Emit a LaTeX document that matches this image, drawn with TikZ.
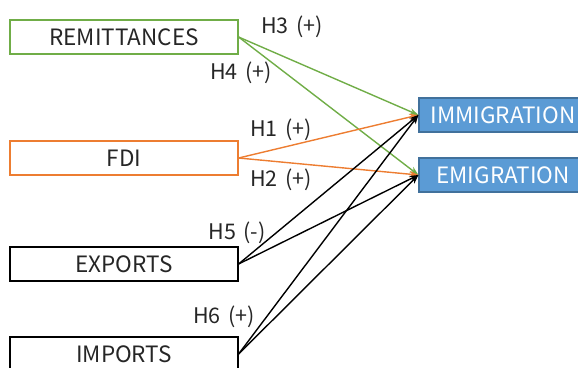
\documentclass[tikz,border=0pt]{standalone}
\usepackage{fontspec}
\setmainfont{Noto Sans CJK JP}
\usetikzlibrary{arrows.meta}
\definecolor{txt}{HTML}{262626}
\definecolor{grn}{HTML}{70AD47}
\definecolor{org}{HTML}{ED7D31}
\definecolor{blu}{HTML}{5B9BD5}
\definecolor{bluedge}{HTML}{41719C}
\tikzset{
  srcbox/.style={draw, line width=1.2pt, minimum width=228pt, minimum height=34pt, inner sep=0pt, text=txt, font=\fontsize{22.5}{24}\selectfont},
  tgtbox/.style={draw=bluedge, fill=blu, line width=1.2pt, minimum width=168pt, minimum height=34pt, inner sep=0pt, text=white, font=\fontsize{22.5}{24}\selectfont},
  hlabel/.style={text=txt, font=\fontsize{21.5}{24}\selectfont, inner sep=0pt},
  arr/.style={-{Stealth[length=9pt,width=6.5pt]}, line width=1.4pt}
}
\begin{document}
\begin{tikzpicture}[x=1pt,y=-1pt]
\useasboundingbox (0,0) rectangle (578,367);
\clip (0,0) rectangle (578,367);
\node[srcbox, draw=grn] (rem) at (124,37) {REMITTANCES};
\node[srcbox, draw=org] (fdi) at (124,158) {FDI};
\node[srcbox, draw=black] (exp) at (124,264) {EXPORTS};
\node[srcbox, draw=black] (imp) at (124,354) {IMPORTS};
\node[tgtbox] (imm) at (503,115) {IMMIGRATION};
\node[tgtbox] (emi) at (503,175) {EMIGRATION};
\draw[arr, grn] (rem.east) -- (imm.west);
\draw[arr, grn] (rem.east) -- (emi.west);
\draw[arr, org] (fdi.east) -- (imm.west);
\draw[arr, org] (fdi.east) -- (emi.west);
\draw[arr, black] (exp.east) -- (imm.west);
\draw[arr, black] (exp.east) -- (emi.west);
\draw[arr, black] (imp.east) -- (imm.west);
\draw[arr, black] (imp.east) -- (emi.west);
\node[hlabel] (h3) at (292,27) {H3\hspace{0.35em}(+)};
\node[hlabel] (h4) at (241,73) {H4\hspace{0.35em}(+)};
\node[hlabel] (h1) at (281,130) {H1\hspace{0.35em}(+)};
\node[hlabel] (h2) at (281,180) {H2\hspace{0.35em}(+)};
\node[hlabel] (h5) at (237,233) {H5\hspace{0.35em}(-)};
\node[hlabel] (h6) at (224,317) {H6\hspace{0.35em}(+)};
\end{tikzpicture}
\end{document}
